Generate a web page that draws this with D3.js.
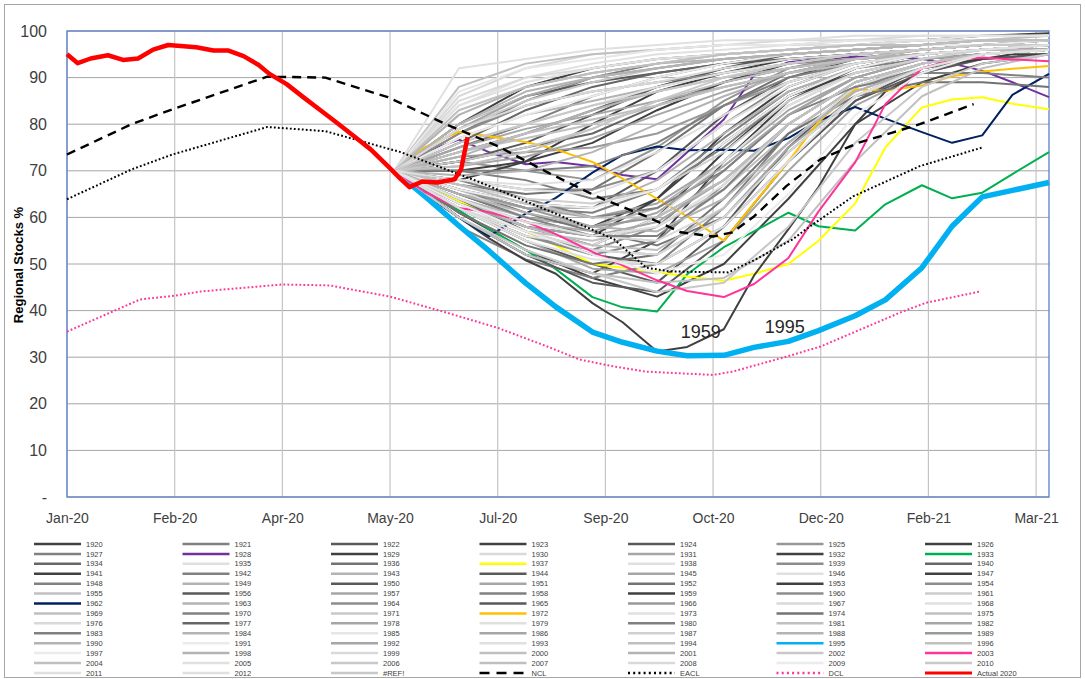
<!DOCTYPE html>
<html><head><meta charset="utf-8">
<script src="https://cdn.jsdelivr.net/npm/d3@7"></script>
<style>body{margin:0;background:#fff;} svg{display:block;font-family:"Liberation Sans",Arial,sans-serif;}</style>
</head><body><svg id="c" width="1085" height="679"></svg>
<script>
// ---------- DATA ----------
const tickDates = ["2020-01-01","2020-02-20","2020-04-10","2020-05-30","2020-07-19","2020-09-07","2020-10-27","2020-12-16","2021-02-04","2021-03-26"];
const yTicks = [0,10,20,30,40,50,60,70,80,90,100];
const yTickLabels = ["-","10","20","30","40","50","60","70","80","90","100"];

const years = [1920,1921,1922,1923,1924,1925,1926,1927,1928,1929,1930,1931,1932,1933,1934,1935,1936,1937,1938,1939,1940,1941,1942,1943,1944,1945,1946,1947,1948,1949,1950,1951,1952,1953,1954,1955,1956,1957,1958,1959,1960,1961,1962,1963,1964,1965,1966,1967,1968,1969,1970,1971,1972,1973,1974,1975,1976,1977,1978,1979,1980,1981,1982,1983,1984,1985,1986,1987,1988,1989,1990,1991,1992,1993,1994,1995,1996,1997,1998,1999,2000,2001,2002,2003,2004,2005,2006,2007,2008,2009,2010,2011,2012];

const monthDates = ["2020-06-01","2020-07-01","2020-08-01","2020-09-01","2020-10-01","2020-11-01","2020-12-01","2021-01-01","2021-02-01","2021-03-01","2021-04-01"];
const halfMonthDates = ["2020-06-01","2020-06-15","2020-07-01","2020-07-15","2020-08-01","2020-08-15","2020-09-01","2020-09-15","2020-10-01","2020-10-15","2020-11-01","2020-11-15","2020-12-01","2020-12-15","2021-01-01","2021-01-15","2021-02-01","2021-02-15","2021-03-01","2021-03-15","2021-04-01"];

const monthlyYears = [1920,1921,1922,1923,1924,1925,1926,1927,1929,1930,1931,1932,1934,1935,1936,1938,1939,1940,1941,1942,1943,1944,1945,1946,1947,1948,1949,1950,1951,1952,1953,1954,1955,1956,1957,1958,1960,1961,1963,1964,1965,1966,1967,1968,1969,1970,1971,1973,1974,1975,1976,1977,1978,1979,1980,1981,1982,1983,1984,1985,1986,1987,1988,1989,1990,1991,1992,1993,1994,1996,1997,1998,1999,2000,2001,2002,2004,2005,2006,2007,2008,2009,2010,2011,2012];
const monthlyValues = [
 [70,60,52,48,55,72,85,92,95,96,97],
 [70,78,85,90,93,95,96,97,97,98,98],
 [70,66,63,62,70,82,90,94,96,97,97],
 [70,80,88,92,94,95,96,97,98,99,99.5],
 [70,62,55,50,46,58,75,88,93,95,96],
 [70,72,70,68,75,85,92,95,96,97,97],
 [70,64,58,54,60,74,86,92,95,96,97],
 [70,75,80,86,90,93,95,96,97,97,98],
 [70,68,72,80,87,91,94,95,96,97,97],
 [70,86,92,95,96,97,98,98,99,99,99],
 [70,63,57,53,52,60,75,86,92,95,96],
 [70,61,53,47,43,50,64,80,89,93,95],
 [70,74,78,83,88,92,94,95,96,97,97],
 [70,92,94,96,97,98,98,99,99,99,99],
 [70,67,65,66,74,84,91,94,95,96,96],
 [70,82,88,91,93,95,96,97,97,98,98],
 [70,62,56,52,55,67,80,89,93,95,96],
 [70,72,75,78,84,89,92,94,95,96,96],
 [70,65,60,58,64,78,88,93,95,96,97],
 [70,58,51,47,50,62,78,88,92,94,95],
 [70,77,82,85,88,91,93,94,95,96,97],
 [70,80,86,89,91,93,94,95,96,97,97],
 [70,66,62,60,63,72,83,90,94,96,97],
 [70,84,90,93,95,96,97,97,98,98,99],
 [70,63,58,56,64,76,86,91,94,95,96],
 [70,70,68,64,66,75,86,92,95,96,97],
 [70,64,60,58,62,72,84,91,94,95,96],
 [70,72,76,82,88,92,95,96,97,98,98],
 [70,62,55,49,48,55,70,84,91,94,95],
 [70,66,61,57,54,60,74,86,92,94,95],
 [70,70,72,76,83,89,93,95,96,97,97],
 [70,68,66,66,70,80,89,93,95,96,96],
 [70,88,93,95,96,97,97,98,98,98,99],
 [70,60,52,46,44,55,72,85,91,94,95],
 [70,75,79,82,85,88,91,93,95,96,96],
 [70,66,62,61,66,77,87,92,94,95,96],
 [70,62,56,53,58,70,82,90,94,95,96],
 [70,80,86,90,92,94,95,96,97,97,98],
 [70,65,62,62,68,78,87,92,95,96,97],
 [70,78,84,87,89,91,93,94,95,96,96],
 [70,64,57,52,50,58,72,85,92,95,96],
 [70,73,74,75,78,84,89,93,95,96,96],
 [70,85,90,92,94,95,96,97,97,98,98],
 [70,76,80,84,88,91,93,95,96,97,97],
 [70,63,57,55,58,66,78,88,93,95,96],
 [70,70,70,71,76,84,90,93,95,96,97],
 [70,79,85,89,92,94,95,96,97,97,98],
 [70,68,66,65,70,80,88,93,95,96,97],
 [70,61,54,50,52,64,78,86,89,89,88],
 [70,74,77,80,84,88,91,94,95,96,97],
 [70,66,60,56,55,62,76,88,93,95,96],
 [70,76,83,88,91,93,95,96,97,97,98],
 [70,71,73,77,82,87,91,94,95,96,97],
 [70,62,56,54,60,72,84,91,94,96,97],
 [70,68,64,60,62,70,82,88,91,91,90],
 [70,60,52,48,46,47,55,72,86,92,95],
 [70,79,86,90,92,94,95,96,97,97,97],
 [70,65,60,56,56,66,80,89,93,95,96],
 [70,73,78,83,87,90,92,94,95,96,96],
 [70,87,92,94,96,97,97,98,98,99,99],
 [70,64,59,57,61,71,82,90,94,95,96],
 [70,67,64,63,66,74,85,91,94,96,97],
 [70,82,88,91,93,94,95,96,97,97,98],
 [70,66,62,58,60,68,80,89,93,95,96],
 [70,69,70,74,80,86,91,94,95,96,97],
 [70,77,82,86,90,93,95,96,97,97,98],
 [70,63,58,56,59,68,80,89,93,95,96],
 [70,84,89,92,94,95,96,97,98,98,98],
 [70,64,58,54,53,62,76,87,92,95,96],
 [70,71,74,79,85,89,92,94,96,97,97],
 [70,66,63,62,66,76,86,92,95,96,97],
 [70,80,87,90,92,94,95,96,97,98,98],
 [70,62,57,53,52,60,74,86,92,95,96],
 [70,74,78,81,84,88,91,93,95,96,96],
 [70,65,61,58,57,64,76,87,92,95,96],
 [70,60,53,48,44,46,58,76,88,93,95],
 [70,83,88,91,93,95,96,97,97,98,98],
 [70,64,59,56,58,67,80,89,93,95,96],
 [70,72,75,79,85,90,93,95,96,97,97],
 [70,67,63,60,60,68,80,89,93,95,96],
 [70,79,84,87,89,92,94,95,96,97,97],
 [70,63,57,52,48,52,65,82,91,95,96],
 [70,76,80,84,87,90,93,95,96,97,97],
 [70,68,67,68,74,82,89,93,95,96,97],
 [70,62,55,51,50,58,72,86,92,95,96]
];

const halfMonthlyYears = [1928,1933,1937,1959,1962,1972,1995,2003];
const halfMonthlyValues = [
 [70,74,76.7,74,71.4,71.9,71,69.1,68.2,74,81,90.5,93.3,94,94.5,94.5,94,93,91.5,89,85.8],
 [70,66,61.5,57.5,53,48.9,42.9,40.7,39.8,47.8,53.6,57,61,58.1,57.2,62.8,66.9,64.1,65.3,69.3,74],
 [70,67,63.5,60.5,57,54,50,49.2,48.3,47.3,46.4,47.9,50,55,63,75,83.6,85.3,85.8,84.4,83.2],
 [70,65.5,60,55.5,50.8,47.9,41.6,37.5,31.2,32.2,36,47.5,57.5,66.5,80,87,91,93,94,95,95],
 [70,65,60,56,60.8,64.2,69.6,73.4,75.2,74.4,74.5,74.3,77,80.8,83.7,81.2,78.3,76,77.6,86.3,90.8],
 [70,75,78.4,77.4,76.2,74.6,71.9,68.3,64,60.2,55,63,72,80.5,87.5,87.2,88.3,90.3,91.3,91.9,92.5],
 [70,64.6,58.2,52.8,45.9,40.8,35.4,33.2,31.3,30.3,30.4,32.1,33.4,35.7,38.9,42.3,49.2,58.1,64.4,65.8,67.5],
 [70,65.5,62,61.1,59.1,56.4,52.6,49.7,46.5,44.2,42.9,45.7,51.3,61.3,71.8,84.3,92,93.8,94.3,93.9,93.5]
];

const nclDates = ["2020-01-01","2020-01-31","2020-02-19","2020-04-03","2020-04-30","2020-05-29","2020-06-25","2020-07-19","2020-08-11","2020-09-03","2020-09-26","2020-10-12","2020-10-27","2020-11-05","2020-11-15","2020-11-30","2020-12-16","2021-01-03","2021-01-19","2021-01-31","2021-02-25"];
const nclValues = [73.5,80,83.2,90.2,90,85.8,80,75.3,69.7,64.5,60.2,56.8,55.9,56.8,60.2,66.7,72.5,76.1,78.3,80,84.3];

const eaclDates = ["2020-01-01","2020-01-31","2020-02-19","2020-04-03","2020-04-30","2020-06-04","2020-07-11","2020-08-18","2020-09-11","2020-09-26","2020-10-07","2020-11-03","2020-11-15","2020-12-03","2020-12-09","2020-12-31","2021-01-31","2021-03-01"];
const eaclValues = [63.9,70.3,73.5,79.4,78.5,74,67.5,60.2,55.3,49.2,48.4,48.2,50.8,55.3,57.4,64.5,71,75];

const dclDates = ["2020-01-01","2020-02-04","2020-02-20","2020-03-03","2020-04-10","2020-05-02","2020-05-30","2020-06-25","2020-07-19","2020-08-11","2020-08-26","2020-09-11","2020-09-26","2020-10-27","2020-11-05","2020-11-30","2020-12-16","2021-01-23","2021-02-03","2021-02-28"];
const dclValues = [35.5,42.4,43.2,44.1,45.6,45.4,43,39.6,36.3,32.3,29.5,28,26.9,26.2,26.9,30.1,32.3,39.8,41.7,44.1];

const actualDates = ["2020-01-01","2020-01-06","2020-01-12","2020-01-20","2020-01-27","2020-02-03","2020-02-10","2020-02-17","2020-03-01","2020-03-09","2020-03-16","2020-03-23","2020-03-30","2020-04-04","2020-04-12","2020-04-20","2020-04-28","2020-05-05","2020-05-13","2020-05-21","2020-05-29","2020-06-04","2020-06-08","2020-06-14","2020-06-21","2020-06-29","2020-07-02","2020-07-05"];
const actualValues = [95.0,93.1,94.1,94.8,93.8,94.1,96.0,97.0,96.5,95.8,95.8,94.6,92.7,90.8,88.6,85.7,82.9,80.4,77.5,74.6,71.0,68.2,66.5,67.7,67.5,68.2,70.3,77.2];

const annotations = [{text:"1959", date:"2020-10-12", value:34.2}, {text:"1995", date:"2020-11-20", value:35.2}];

// ---------- STYLES ----------
const yearColors = ["#404040","#808080","#595959","#404040","#595959","#969696","#404040",
"#808080","#7030a0","#404040","#d9d9d9","#a6a6a6","#404040","#00b050",
"#666666","#e0e0e0","#737373","#ffff00","#e0e0e0","#8c8c8c","#666666",
"#404040","#808080","#b3b3b3","#595959","#a6a6a6","#e0e0e0","#404040",
"#808080","#b3b3b3","#595959","#a6a6a6","#737373","#404040","#8c8c8c",
"#c0c0c0","#595959","#a6a6a6","#808080","#404040","#8c8c8c","#cccccc",
"#002060","#b3b3b3","#8c8c8c","#595959","#999999","#d9d9d9","#e0e0e0",
"#bfbfbf","#808080","#c8c8c8","#ffc000","#e0e0e0","#737373","#c0c0c0",
"#d9d9d9","#666666","#a6a6a6","#e0e0e0","#808080","#c0c0c0","#a6a6a6",
"#808080","#b3b3b3","#e6e6e6","#a6a6a6","#d0d0d0","#b3b3b3","#999999",
"#b3b3b3","#ebebeb","#a6a6a6","#e0e0e0","#bfbfbf","#00b0f0","#c0c0c0",
"#ebebeb","#b3b3b3","#d9d9d9","#bfbfbf","#b3b3b3","#c8c8c8","#ff3399",
"#bfbfbf","#e0e0e0","#c8c8c8","#bfbfbf","#d9d9d9","#ebebeb","#c8c8c8",
"#e0e0e0","#e0e0e0"];

// ---------- CHART ----------
const M = {left:67, right:1049, top:31, bottom:497};
const parse = d3.utcParse("%Y-%m-%d");
const svg = d3.select("#c");

const x = d3.scaleUtc().domain([parse("2020-01-01"), parse("2021-04-01")]).range([M.left, M.right]);
const y = d3.scaleLinear().domain([0,100]).range([M.bottom, M.top]);

svg.append("rect").attr("x",4.5).attr("y",4.5).attr("width",1076).attr("height",673)
  .attr("fill","#fff").attr("stroke","#a6a6a6").attr("stroke-width",1);

const grid = svg.append("g");
grid.selectAll("line.h").data(yTicks).join("line")
  .attr("x1",M.left).attr("x2",M.right).attr("y1",d=>y(d)).attr("y2",d=>y(d))
  .attr("stroke","#a6a6a6").attr("stroke-width",1);
grid.selectAll("line.v").data(tickDates).join("line")
  .attr("x1",d=>x(parse(d))).attr("x2",d=>x(parse(d))).attr("y1",M.top).attr("y2",M.bottom)
  .attr("stroke","#c4c4c4").attr("stroke-width",1.2);

svg.append("rect").attr("x",M.left).attr("y",M.top).attr("width",M.right-M.left).attr("height",M.bottom-M.top)
  .attr("fill","none").attr("stroke","#5b7fc7").attr("stroke-width",1.3);

const yAxis = d3.axisLeft(y).tickValues(yTicks).tickSize(0).tickPadding(20)
  .tickFormat((d,i)=>yTickLabels[i]);
const gy = svg.append("g").attr("transform",`translate(${M.left},0)`).call(yAxis);
gy.select(".domain").remove();
gy.selectAll("text").attr("font-size",16).attr("fill","#404040").attr("font-family","Liberation Sans, Arial, sans-serif");

const xAxis = d3.axisBottom(x).tickValues(tickDates.map(parse)).tickSize(0).tickPadding(16)
  .tickFormat(d3.utcFormat("%b-%y"));
const gx = svg.append("g").attr("transform",`translate(0,${M.bottom})`).call(xAxis);
gx.select(".domain").remove();
gx.selectAll("text").attr("font-size",14).attr("fill","#404040").attr("font-family","Liberation Sans, Arial, sans-serif");

svg.append("text").attr("transform","translate(23,265) rotate(-90)").attr("text-anchor","middle")
  .attr("font-size",13).attr("font-weight","bold").attr("fill","#000").text("Regional Stocks %");

const line = d3.line().x(d=>x(d[0])).y(d=>y(d[1]));
const series = svg.append("g").attr("fill","none").attr("stroke-linejoin","round");
years.forEach((yr,i)=>{
  let pts = null;
  const mi = monthlyYears.indexOf(yr);
  if (mi >= 0) pts = monthDates.map((d,k)=>[parse(d), monthlyValues[mi][k]]);
  const hi = halfMonthlyYears.indexOf(yr);
  if (hi >= 0) pts = halfMonthDates.map((d,k)=>[parse(d), halfMonthlyValues[hi][k]]);
  if (!pts) return;
  series.append("path").attr("d",line(pts)).attr("stroke",yearColors[i])
    .attr("stroke-width", yr===1995 ? 5.5 : 2);
});
const zip = (ds,vs)=>ds.map((d,k)=>[parse(d),vs[k]]);
series.append("path").attr("d",line(zip(nclDates,nclValues))).attr("stroke","#000").attr("stroke-width",2.4).attr("stroke-dasharray","9,6");
series.append("path").attr("d",line(zip(eaclDates,eaclValues))).attr("stroke","#000").attr("stroke-width",2).attr("stroke-dasharray","1.8,2.2");
series.append("path").attr("d",line(zip(dclDates,dclValues))).attr("stroke","#ff3399").attr("stroke-width",2).attr("stroke-dasharray","1.8,2.2");
series.append("path").attr("d",line(zip(actualDates,actualValues))).attr("stroke","#ff0000").attr("stroke-width",4.5);

svg.selectAll("text.ann").data(annotations).join("text").attr("class","ann")
  .attr("x",d=>x(parse(d.date))).attr("y",d=>y(d.value)).attr("font-size",18).attr("fill","#262626").text(d=>d.text);

const legendNames = years.map(String).concat(["#REF!","NCL","EACL","DCL","Actual 2020"]);
const legendColors = yearColors.concat(["#c8c8c8","#000","#000","#ff3399","#ff0000"]);
const lg = svg.append("g");
legendNames.forEach((n,i)=>{
  const col = i%7, row = Math.floor(i/7);
  const lx = 34 + col*148.5, ly = 544 + row*9.92;
  const l = lg.append("line").attr("x1",lx).attr("x2",lx+47).attr("y1",ly).attr("y2",ly)
    .attr("stroke",legendColors[i]).attr("stroke-width",2.5);
  if (n==="NCL") l.attr("stroke-dasharray","10,7");
  if (n==="EACL"||n==="DCL") l.attr("stroke-dasharray","2,3.2");
  if (n==="Actual 2020") l.attr("stroke-width",3);
  lg.append("text").attr("x",lx+52).attr("y",ly+2.6).attr("font-size",7.5).attr("fill","#404040").text(n);
});
</script></body></html>
